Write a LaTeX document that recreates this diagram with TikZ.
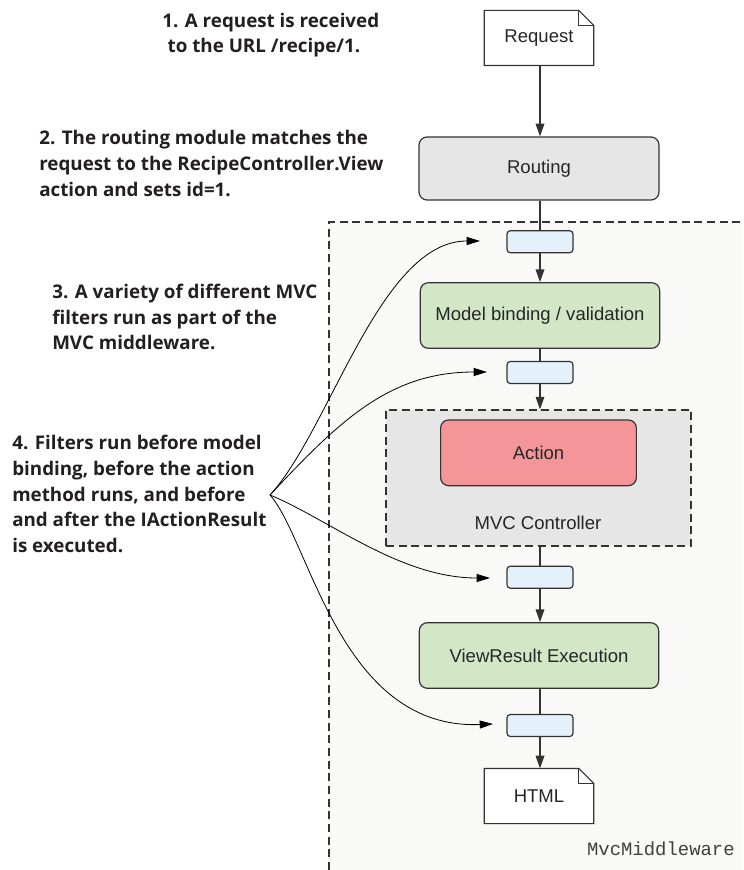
\documentclass[tikz,border=0pt]{standalone}
\usepackage{fontspec}
\setmainfont{Liberation Sans}
\newfontfamily\notefont{Open Sans}
\newfontfamily\codefont{Liberation Mono}
\usetikzlibrary{arrows.meta,calc}
\definecolor{mwbg}{HTML}{F9F9F7}
\definecolor{routebg}{HTML}{E6E6E6}
\definecolor{filterbg}{HTML}{E4F1FA}
\definecolor{greenbg}{HTML}{D3E7C6}
\definecolor{actionbg}{HTML}{F39599}
\definecolor{ctrlbg}{HTML}{E6E6E6}
\definecolor{edge}{HTML}{333333}
\definecolor{notecol}{HTML}{231F20}
\tikzset{
  boxline/.style={draw=edge, line width=0.9pt},
  proc/.style={boxline, rounded corners=6pt, minimum width=179.5pt, minimum height=49.2pt, font=\fontsize{13.9}{16}\selectfont, text=black!85},
  filterbox/.style={boxline, rounded corners=2.5pt, fill=filterbg, minimum width=49.5pt, minimum height=16.5pt, inner sep=0pt},
  docnode/.style={fill=white, minimum width=81.75pt, minimum height=41pt, inner sep=0pt, font=\fontsize{13.9}{16}\selectfont, text=black!85},
  note/.style={align=left, anchor=west, inner sep=0pt, text=notecol, font=\notefont\bfseries\fontsize{14.1}{19.3}\selectfont},
  flow/.style={draw=edge, line width=0.9pt, -{Triangle[length=9.5pt,width=6.5pt]}},
  plain/.style={draw=edge, line width=0.9pt},
  curv/.style={draw=black, line width=0.6pt, -{Triangle[length=10pt,width=6pt]}},
  dashbox/.style={draw=edge, line width=0.8pt, dash pattern=on 6pt off 3.5pt}
}
\begin{document}
\begin{tikzpicture}[x=0.75pt,y=-0.75pt]
\useasboundingbox (0,0) rectangle (743,870);
% MvcMiddleware region
\fill[mwbg] (329,222) rectangle (743,870);
\draw[dashbox] (329,870) -- (329,222) -- (743,222);
\node[anchor=base east, inner sep=0pt, font=\codefont\fontsize{14.2}{16}\selectfont, text=black!75] (mwlabel) at (735,855) {MvcMiddleware};

% Request document
\node[docnode] (req) at (539,38) {Request};
\fill[white] ([xshift=-11.25pt]req.north east) -- (req.north east) -- ([yshift=-11.25pt]req.north east) -- cycle;
\draw[boxline] (req.south west) -- (req.north west) -- ([xshift=-11.25pt]req.north east) -- ([yshift=-11.25pt]req.north east) -- (req.south east) -- cycle;
\draw[boxline] ([xshift=-11.25pt]req.north east) |- ([yshift=-11.25pt]req.north east);

% Routing
\node[proc, fill=routebg, minimum width=180pt, minimum height=47.25pt] (routing) at (539,168.5) {Routing};

% Filters and processing
\node[filterbox] (f1) at (540,241.7) {};
\node[proc, fill=greenbg] (model) at (540,315.5) {Model binding / validation};
\node[filterbox] (f2) at (540,372.5) {};

\node[dashbox, fill=ctrlbg, minimum width=228.75pt, minimum height=102pt, inner sep=0pt] (ctrl) at (538.5,478) {};
\node[proc, fill=actionbg, minimum width=146.8pt, minimum height=49.3pt] (action) at (538.5,452.8) {Action};
\node[font=\fontsize{13.9}{16}\selectfont, text=black!85, inner sep=0pt] (ctrllabel) at (538,523) {MVC Controller};

\node[filterbox] (f3) at (540,577.2) {};
\node[proc, fill=greenbg] (view) at (539,655.5) {ViewResult Execution};
\node[filterbox] (f4) at (540,725.5) {};

% HTML document
\node[docnode] (html) at (539,796) {HTML};
\fill[mwbg] ([xshift=-11.25pt]html.north east) -- (html.north east) -- ([yshift=-11.25pt]html.north east) -- cycle;
\draw[boxline] (html.south west) -- (html.north west) -- ([xshift=-11.25pt]html.north east) -- ([yshift=-11.25pt]html.north east) -- (html.south east) -- cycle;
\draw[boxline] ([xshift=-11.25pt]html.north east) |- ([yshift=-11.25pt]html.north east);

% flow connectors
\draw[flow] (req.south -| f1) -- (routing.north -| f1);
\draw[plain] (routing.south -| f1) -- (f1.north);
\draw[flow] (f1.south) -- (model.north -| f1);
\draw[plain] (model.south -| f2) -- (f2.north);
\draw[flow] (f2.south) -- (ctrl.north -| f2);
\draw[plain] (ctrl.south -| f3) -- (f3.north);
\draw[flow] (f3.south) -- (view.north -| f3);
\draw[plain] (view.south -| f4) -- (f4.north);
\draw[flow] (f4.south) -- (html.north -| f4);

% notes
\node[note] (n1) at (162,35) {1. A request is received\\\hspace*{4pt}to the URL /recipe/1.};
\node[note] (n2) at (39,163.5) {2. The routing module matches the\\request to the RecipeController.View\\action and sets id=1.};
\node[note] (n3) at (52,317) {3. A variety of different MVC\\filters run as part of the\\MVC middleware.};
\node[note] (n4) at (12,494) {4. Filters run before model\\binding, before the action\\method runs, and before\\and after the IActionResult\\is executed.};

% curved pointers
\coordinate (conv) at (270,495);
\coordinate (t1) at (480,241);
\coordinate (t2) at (487,372);
\coordinate (t3) at (490,578);
\coordinate (t4) at (493,724);
\draw[curv] (conv) .. controls (330,430) and (380,241) .. (t1);
\draw[curv] (conv) .. controls (340,420) and (390,372) .. (t2);
\draw[curv] (conv) .. controls (330,520) and (400,578) .. (t3);
\draw[curv] (conv) .. controls (310,540) and (340,730) .. (t4);
\end{tikzpicture}
\end{document}
